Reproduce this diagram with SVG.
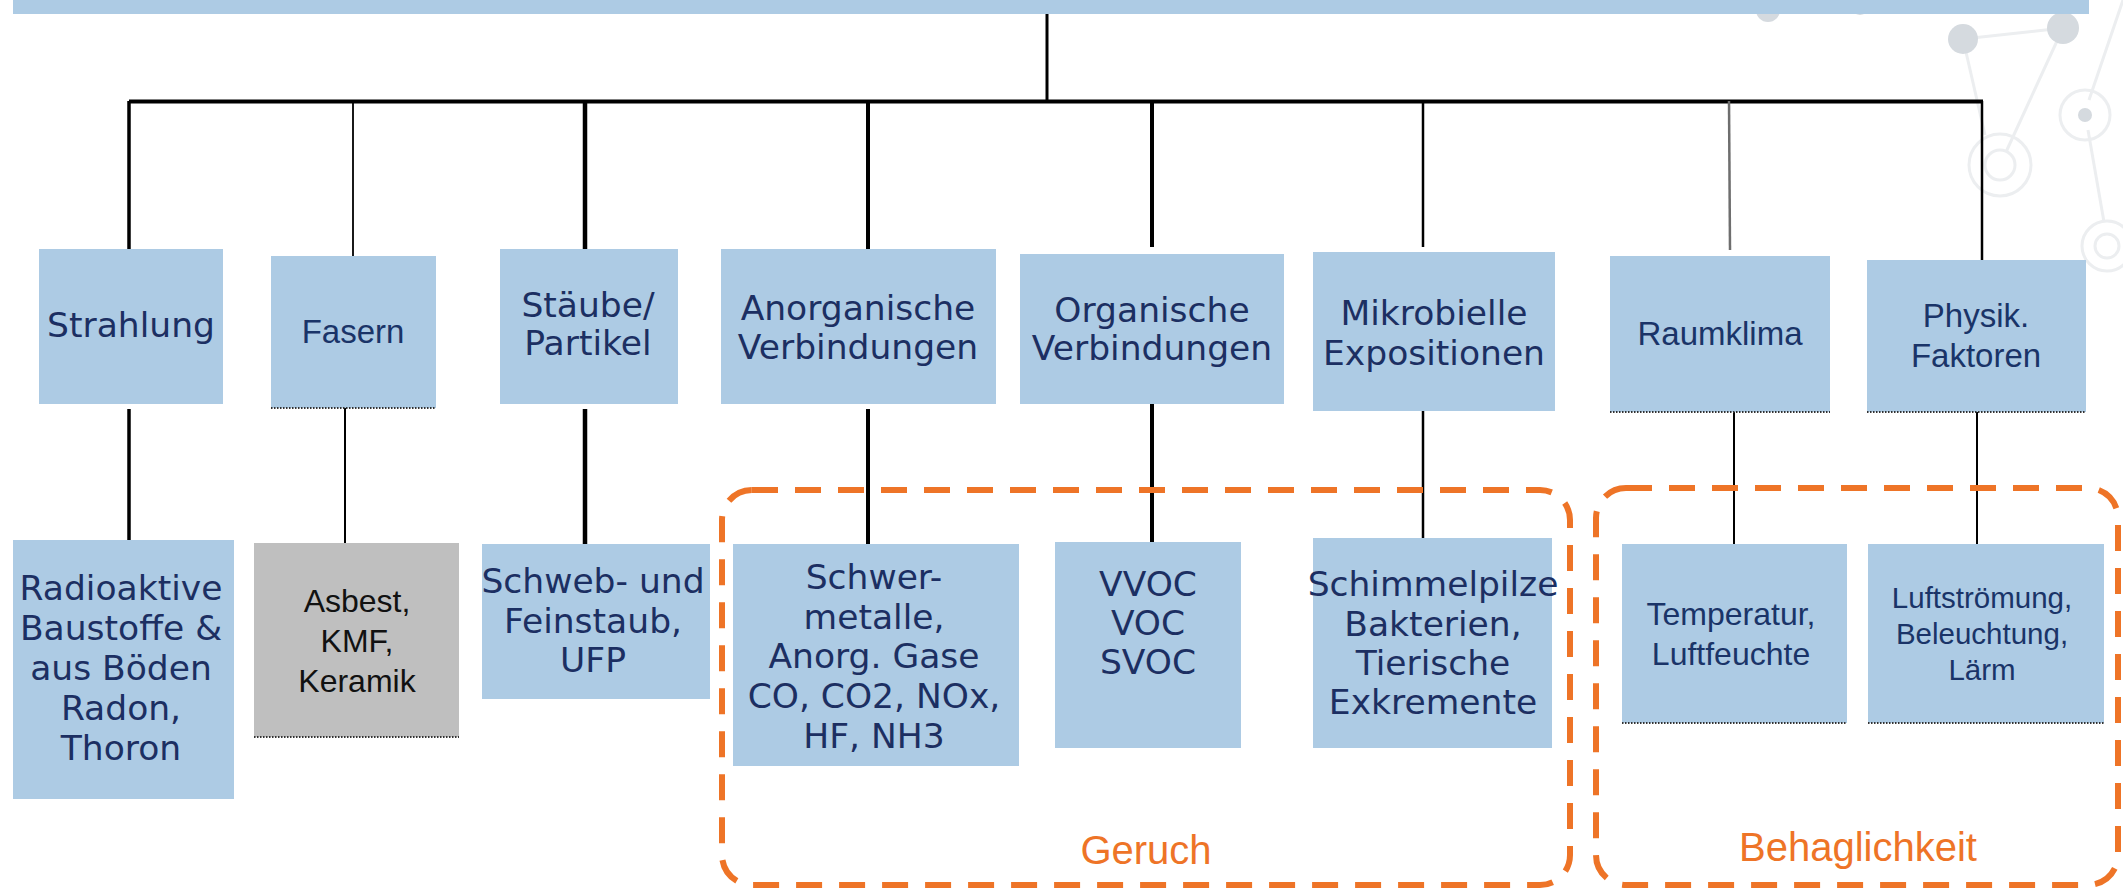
<svg xmlns="http://www.w3.org/2000/svg" width="2123" height="889" viewBox="0 0 2123 889">
  <style>
    .box { fill: #adcbe4; }
    .grey { fill: #bfbfbf; }
    .dot { stroke: #333; stroke-width: 2; stroke-dasharray: 1.5 1.5; fill: none; }
    .r { font-family: "DejaVu Sans", sans-serif; font-size: 34.5px; fill: #1c2f62; text-anchor: middle; }
    .a { font-family: "Liberation Sans", Arial, sans-serif; font-size: 33px; fill: #1a3468; text-anchor: middle; }
    .k { font-family: "Liberation Sans", Arial, sans-serif; font-size: 32px; fill: #111111; text-anchor: middle; }
    .o { font-family: "Liberation Sans", Arial, sans-serif; font-size: 40px; fill: #ee7427; text-anchor: middle; }
    .ln { stroke: #000; fill: none; }
    .grp { fill: none; stroke: #ee7427; stroke-width: 6; stroke-dasharray: 26 17; }
    .deco { stroke: #eceef0; stroke-width: 3; fill: none; }
    .decodot { fill: #d5dadf; }
  </style>

  <!-- background decoration -->
  <g id="decoration">
    <line class="deco" x1="1963" y1="39" x2="2063" y2="28"/>
    <line class="deco" x1="1963" y1="39" x2="1985" y2="135"/>
    <line class="deco" x1="2063" y1="28" x2="2006" y2="152"/>
    <line class="deco" x1="2123" y1="0" x2="2089" y2="100"/>
    <line class="deco" x1="2088" y1="130" x2="2104" y2="222"/>
    <circle class="deco" cx="2000" cy="165" r="31"/>
    <circle class="deco" cx="2000" cy="165" r="15"/>
    <circle class="deco" cx="2085" cy="115" r="25"/>
    <circle class="decodot" cx="2085" cy="115" r="7"/>
    <circle class="deco" cx="2107" cy="246" r="25"/>
    <circle class="deco" cx="2107" cy="246" r="12"/>
    <circle class="decodot" cx="1963" cy="39" r="15"/>
    <circle class="decodot" cx="2063" cy="28" r="16"/>
    <circle class="decodot" cx="1768" cy="10" r="12"/>
    <circle class="decodot" cx="1860" cy="6" r="9"/>
  </g>

  <!-- top bar -->
  <rect id="top-bar" class="box" x="13" y="0" width="2076" height="14"/>

  <g id="connectors">
    <line class="ln" x1="1047" y1="14" x2="1047" y2="101" stroke-width="3"/>
    <line class="ln" x1="129" y1="101.5" x2="1983" y2="101.5" stroke-width="4"/>
    <line class="ln" x1="129" y1="101" x2="129" y2="249" stroke-width="3.5"/>
    <line class="ln" x1="353" y1="101" x2="353" y2="256" stroke-width="1.8"/>
    <line class="ln" x1="585" y1="101" x2="585" y2="249" stroke-width="4.5"/>
    <line class="ln" x1="868" y1="101" x2="868" y2="249" stroke-width="4"/>
    <line class="ln" x1="1152" y1="101" x2="1152" y2="247" stroke-width="4"/>
    <line class="ln" x1="1423" y1="101" x2="1423" y2="247" stroke-width="2.5"/>
    <line x1="1729" y1="101" x2="1730" y2="250" stroke="#6e6e6e" stroke-width="2.5"/>
    <line class="ln" x1="1982" y1="101" x2="1982" y2="260" stroke-width="2.5"/>

    <line class="ln" x1="129" y1="409" x2="129" y2="540" stroke-width="3.5"/>
    <line class="ln" x1="345" y1="408" x2="345" y2="543" stroke-width="2"/>
    <line class="ln" x1="585" y1="409" x2="585" y2="544" stroke-width="4.5"/>
    <line class="ln" x1="868" y1="409" x2="868" y2="544" stroke-width="4"/>
    <line class="ln" x1="1152" y1="404" x2="1152" y2="542" stroke-width="4"/>
    <line class="ln" x1="1423" y1="411" x2="1423" y2="538" stroke-width="2.5"/>
    <line class="ln" x1="1734" y1="412" x2="1734" y2="544" stroke-width="2"/>
    <line class="ln" x1="1977" y1="412" x2="1977" y2="544" stroke-width="2"/>
  </g>

  <!-- level 1 -->
  <g id="strahlung">
    <rect class="box" x="39" y="249" width="184" height="155"/>
    <text class="r" x="131" y="337">Strahlung</text>
  </g>
  <g id="fasern">
    <rect class="box" x="271" y="256" width="165" height="152"/>
    <line class="dot" x1="271" y1="408" x2="436" y2="408"/>
    <text class="a" x="353" y="343">Fasern</text>
  </g>
  <g id="staeube">
    <rect class="box" x="500" y="249" width="178" height="155"/>
    <text class="r" x="588" y="317">Stäube/</text>
    <text class="r" x="588" y="355">Partikel</text>
  </g>
  <g id="anorganische">
    <rect class="box" x="721" y="249" width="275" height="155"/>
    <text class="r" x="858" y="320">Anorganische</text>
    <text class="r" x="858" y="359">Verbindungen</text>
  </g>
  <g id="organische">
    <rect class="box" x="1020" y="254" width="264" height="150"/>
    <text class="r" x="1152" y="322">Organische</text>
    <text class="r" x="1152" y="360">Verbindungen</text>
  </g>
  <g id="mikrobielle">
    <rect class="box" x="1313" y="252" width="242" height="159"/>
    <text class="r" x="1434" y="325">Mikrobielle</text>
    <text class="r" x="1434" y="365">Expositionen</text>
  </g>
  <g id="raumklima">
    <rect class="box" x="1610" y="256" width="220" height="156"/>
    <line class="dot" x1="1610" y1="412" x2="1830" y2="412"/>
    <text class="a" x="1720" y="345">Raumklima</text>
  </g>
  <g id="physik">
    <rect class="box" x="1867" y="260" width="219" height="152"/>
    <line class="dot" x1="1867" y1="412" x2="2086" y2="412"/>
    <text class="a" x="1976" y="327">Physik.</text>
    <text class="a" x="1976" y="367">Faktoren</text>
  </g>

  <!-- level 2 -->
  <g id="radioaktive">
    <rect class="box" x="13" y="540" width="221" height="259"/>
    <text class="r" x="121" y="600">Radioaktive</text>
    <text class="r" x="121" y="640">Baustoffe &amp;</text>
    <text class="r" x="121" y="680">aus Böden</text>
    <text class="r" x="121" y="720">Radon,</text>
    <text class="r" x="121" y="760">Thoron</text>
  </g>
  <g id="asbest">
    <rect class="grey" x="254" y="543" width="205" height="194"/>
    <line class="dot" x1="254" y1="737" x2="459" y2="737"/>
    <text class="k" x="357" y="612">Asbest,</text>
    <text class="k" x="357" y="652">KMF,</text>
    <text class="k" x="357" y="692">Keramik</text>
  </g>
  <g id="schweb">
    <rect class="box" x="482" y="544" width="228" height="155"/>
    <text class="r" x="593" y="593">Schweb- und</text>
    <text class="r" x="593" y="633">Feinstaub,</text>
    <text class="r" x="593" y="672">UFP</text>
  </g>
  <g id="schwermetalle">
    <rect class="box" x="733" y="544" width="286" height="222"/>
    <text class="r" x="874" y="589">Schwer-</text>
    <text class="r" x="874" y="629">metalle,</text>
    <text class="r" x="874" y="668">Anorg. Gase</text>
    <text class="r" x="874" y="708">CO, CO2, NOx,</text>
    <text class="r" x="874" y="748">HF, NH3</text>
  </g>
  <g id="voc">
    <rect class="box" x="1055" y="542" width="186" height="206"/>
    <text class="r" x="1148" y="596">VVOC</text>
    <text class="r" x="1148" y="635">VOC</text>
    <text class="r" x="1148" y="674">SVOC</text>
  </g>
  <g id="schimmelpilze">
    <rect class="box" x="1313" y="538" width="239" height="210"/>
    <text class="r" x="1433" y="596">Schimmelpilze</text>
    <text class="r" x="1433" y="636">Bakterien,</text>
    <text class="r" x="1433" y="675">Tierische</text>
    <text class="r" x="1433" y="714">Exkremente</text>
  </g>
  <g id="temperatur">
    <rect class="box" x="1622" y="544" width="225" height="179"/>
    <line class="dot" x1="1622" y1="723" x2="1847" y2="723"/>
    <text class="a" x="1731" y="625" style="font-size:32px">Temperatur,</text>
    <text class="a" x="1731" y="665" style="font-size:32px">Luftfeuchte</text>
  </g>
  <g id="luftstroemung">
    <rect class="box" x="1868" y="544" width="236" height="179"/>
    <line class="dot" x1="1868" y1="723" x2="2104" y2="723"/>
    <text class="a" x="1982" y="608" style="font-size:29.5px">Luftströmung,</text>
    <text class="a" x="1982" y="644" style="font-size:29.5px">Beleuchtung,</text>
    <text class="a" x="1982" y="680" style="font-size:29.5px">Lärm</text>
  </g>

  <!-- groups -->
  <g id="geruch">
    <rect class="grp" x="722" y="490" width="848" height="395" rx="30" ry="30"/>
    <text class="o" x="1146" y="864">Geruch</text>
  </g>
  <g id="behaglichkeit">
    <rect class="grp" x="1596" y="488" width="522" height="397" rx="30" ry="30"/>
    <text class="o" x="1858" y="861">Behaglichkeit</text>
  </g>
</svg>
